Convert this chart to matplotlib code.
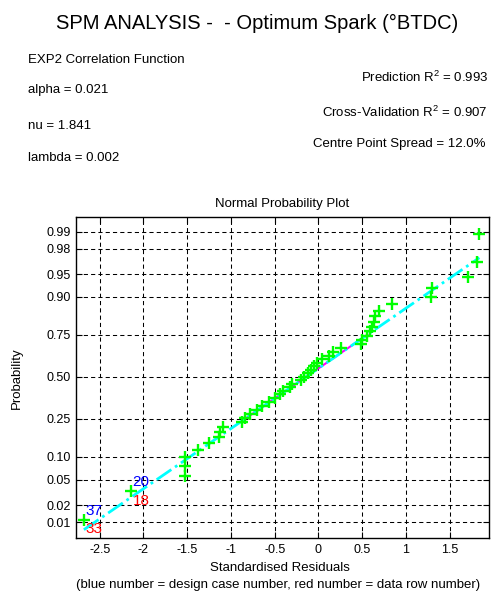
import numpy as np
import matplotlib
matplotlib.use("Agg")
import matplotlib.pyplot as plt
from statistics import NormalDist

plt.rcParams['font.family'] = ['Liberation Sans', 'DejaVu Sans']
plt.rcParams['mathtext.fontset'] = 'custom'
plt.rcParams['mathtext.rm'] = 'Liberation Sans'
plt.rcParams['mathtext.it'] = 'Liberation Sans:italic'

# standardised residuals, sorted
residuals = [-2.68, -2.14, -1.53, -1.53, -1.52, -1.38, -1.25, -1.14, -1.12, -1.09,
             -0.87, -0.84, -0.78, -0.70, -0.65, -0.57, -0.50, -0.44, -0.40, -0.33,
             -0.30, -0.20, -0.16, -0.12, -0.08, -0.05, -0.02, 0.04, 0.12, 0.17,
             0.26, 0.49, 0.50, 0.56, 0.59, 0.61, 0.63, 0.65, 0.69, 0.84,
             1.29, 1.30, 1.71, 1.81, 1.84]
# outliers labelled: index into sorted residuals, design case, data row
outlier_idx = [0, 1]
case_numbers = [37, 20]
row_numbers = [33, 18]

prob_ticks = [0.01, 0.02, 0.05, 0.10, 0.25, 0.50, 0.75, 0.90, 0.95, 0.98, 0.99]
prob_labels = ['0.01', '0.02', '0.05', '0.10', '0.25', '0.50', '0.75', '0.90', '0.95', '0.98', '0.99']

nd = NormalDist()
x = np.array(residuals)
n = len(x)
# plotting positions (i-0.5)/n on the normal scale
z = np.array([nd.inv_cdf((i + 0.5) / n) for i in range(n)])

fig = plt.figure(figsize=(4.93, 5.94), dpi=100)
ax = fig.add_axes([0.1542, 0.0943, 0.8377, 0.5404])

# reference line through the quartiles
q1, q3 = np.percentile(x, [25, 75])
zq1, zq3 = nd.inv_cdf(0.25), nd.inv_cdf(0.75)
slope = (zq3 - zq1) / (q3 - q1)
xl = np.array([x.min(), x.max()])
ax.plot([q1, q3], [zq1, zq3], color='#ff00ff', lw=1.5, zorder=2)
ax.plot(xl, zq1 + slope * (xl - q1), color='#00ffff', lw=2, ls='-.', zorder=3)
ax.plot(x, z, '+', color='#00ff00', ms=8.5, mew=1.7, zorder=4)

for k, idx in enumerate(outlier_idx):
    ax.annotate(str(case_numbers[k]), (x[idx], z[idx]), xytext=(1, 1.5),
                textcoords='offset points', ha='left', va='bottom',
                color='#0000ff', fontsize=11)
    ax.annotate(str(row_numbers[k]), (x[idx], z[idx]), xytext=(1, -2),
                textcoords='offset points', ha='left', va='top',
                color='#ff0000', fontsize=11)

ax.set_xlim(-2.77, 1.95)
ax.set_ylim(-2.58, 2.56)
ax.set_xticks([-2.5, -2, -1.5, -1, -0.5, 0, 0.5, 1, 1.5])
ax.set_xticklabels(['-2.5', '-2', '-1.5', '-1', '-0.5', '0', '0.5', '1', '1.5'])
ax.set_yticks([nd.inv_cdf(p) for p in prob_ticks])
ax.set_yticklabels(prob_labels)
ax.tick_params(direction='in', top=True, right=True, length=4, width=0.8,
               labelsize=9, pad=4)
ax.grid(True, color='black', lw=0.75, ls=(0, (4, 3)))
for s in ax.spines.values():
    s.set_linewidth(1)
ax.set_title('Normal Probability Plot', fontsize=9.5, pad=7)

fig.text(0.521, 0.961, 'SPM ANALYSIS -  - Optimum Spark (°BTDC)', ha='center',
         va='center', fontsize=14.5)
left_lines = ['EXP2 Correlation Function', 'alpha = 0.021', 'nu = 1.841', 'lambda = 0.002']
left_y = [0.899, 0.848, 0.788, 0.734]
for t, yy in zip(left_lines, left_y):
    fig.text(0.0568, yy, t, ha='left', va='center', fontsize=9.5)
right_lines = ['Prediction R$^{2}$ = 0.993', 'Cross-Validation R$^{2}$ = 0.907',
               'Centre Point Spread = 12.0%']
right_y = [0.870, 0.811, 0.758]
right_x = [0.990, 0.990, 0.984]
for t, xx, yy in zip(right_lines, right_x, right_y):
    fig.text(xx, yy, t, ha='right', va='center', fontsize=9.5)

fig.text(0.0345, 0.3636, 'Probability', rotation=90, ha='center', va='center', fontsize=9.5)
fig.text(0.568, 0.044, 'Standardised Residuals', ha='center', va='center', fontsize=9.5)
fig.text(0.565, 0.0152, '(blue number = design case number, red number = data row number)',
         ha='center', va='center', fontsize=9.5)

fig.savefig('out.png', dpi=100)
